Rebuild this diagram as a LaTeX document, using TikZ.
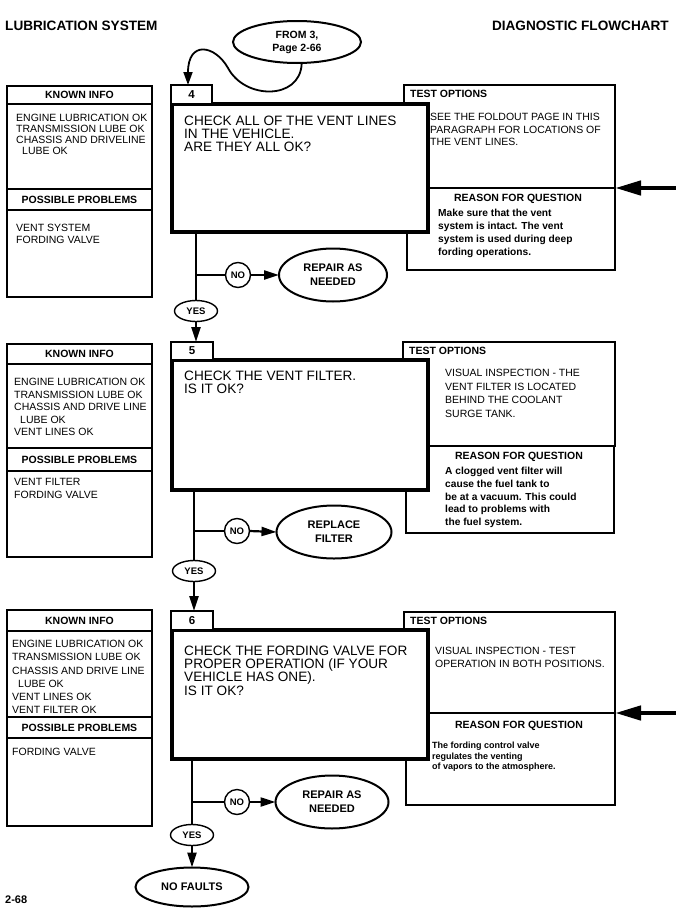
\documentclass[tikz,border=0pt]{standalone}
\usepackage{fontspec}
\setmainfont{Liberation Sans}
\usetikzlibrary{arrows.meta,shapes.geometric}
\newcommand{\rectnode}[6]{%
  \pgfmathsetmacro{\rnx}{(#3+#5)/2}%
  \pgfmathsetmacro{\rny}{(#4+#6)/2}%
  \pgfmathsetmacro{\rnw}{#5-#3}%
  \pgfmathsetmacro{\rnh}{#6-#4}%
  \node[#1, minimum width=\rnw pt, minimum height=\rnh pt] (#2) at (\rnx,\rny) {};}
\tikzset{
  thinbox/.style={draw, line width=1.3pt, fill=white, inner sep=0pt, outer sep=0pt},
  testbox/.style={draw, line width=1.8pt, fill=white, inner sep=0pt, outer sep=0pt},
  mainbox/.style={draw, line width=4pt, fill=white, inner sep=0pt, outer sep=0pt},
  lblbox/.style={draw, line width=1.3pt, fill=white, inner sep=0pt, outer sep=0pt},
  rulel/.style={line width=1.3pt},
  hdr/.style={font=\bfseries\fontsize{10.5}{12}\selectfont, inner sep=0pt},
  txt/.style={font=\fontsize{10.5}{#1}\selectfont, align=left, anchor=north west, inner sep=0pt},
  rtxt/.style={font=\bfseries\fontsize{10.2}{#1}\selectfont, align=left, anchor=north west, inner sep=0pt},
  rtxtsmall/.style={font=\bfseries\fontsize{9}{#1}\selectfont, align=left, anchor=north west, inner sep=0pt},
  mtxt/.style={font=\fontsize{13.6}{#1}\selectfont, align=left, anchor=north west, inner sep=0pt},
  numtxt/.style={font=\bfseries\fontsize{11.5}{12}\selectfont, inner sep=0pt},
  outcome/.style={ellipse, draw, line width=2pt, fill=white, inner sep=0pt, outer sep=0pt, minimum height=53pt, align=center, font=\bfseries\fontsize{11}{14}\selectfont},
  yesno/.style={ellipse, draw, line width=1.4pt, fill=white, inner sep=0pt, outer sep=0pt, font=\bfseries\fontsize{9.5}{10}\selectfont},
  yesoval/.style={yesno, minimum width=43pt, minimum height=21pt},
  nocirc/.style={yesno, minimum width=25pt, minimum height=25pt},
  conn/.style={line width=2.2pt},
  arr/.style={line width=2.2pt, -{Triangle[length=15pt,width=9pt]}},
  bigarr/.style={line width=4.5pt, -{Triangle[length=26pt,width=14pt]}},
  titletxt/.style={font=\bfseries\fontsize{13.6}{15}\selectfont, inner sep=0pt},
}
\begin{document}
\begin{tikzpicture}[x=1pt,y=-1pt]
\path[use as bounding box, fill=white] (0,0) rectangle (676,921);

% titles
\node[titletxt, anchor=west] (title1) at (5,26) {LUBRICATION SYSTEM};
\node[titletxt, anchor=east] (title2) at (669,26) {DIAGNOSTIC FLOWCHART};
\node[font=\bfseries\fontsize{11}{12}\selectfont, inner sep=0pt, anchor=west] (pageno) at (5,900) {2-68};

% entry oval
\node[ellipse, draw, line width=2pt, fill=white, inner sep=0pt, minimum width=128pt, minimum height=42pt, align=center, font=\bfseries\fontsize{10.5}{13}\selectfont] (from) at (297,42) {FROM 3,\\Page 2-66};

%================ SECTION 1 =================
\rectnode{thinbox}{k1}{7}{86}{152}{297}
\draw[rulel] (k1.west |- 0,104) -- (k1.east |- 0,104);
\draw[rulel] (k1.west |- 0,189) -- (k1.east |- 0,189);
\draw[rulel] (k1.west |- 0,210) -- (k1.east |- 0,210);
\node[hdr] (k1h) at (79.5,95) {KNOWN INFO};
\node[txt=11] (k1t) at (16,114.2) {ENGINE LUBRICATION OK\\TRANSMISSION LUBE OK\\CHASSIS AND DRIVELINE\\\hspace*{6pt}LUBE OK};
\node[hdr] (k1ph) at (79.5,200) {POSSIBLE PROBLEMS};
\node[txt=12] (k1p) at (16,224.2) {VENT SYSTEM\\FORDING VALVE};

\rectnode{testbox}{t1}{404}{85}{615}{188}
\rectnode{testbox}{r1}{407}{188}{615}{270}
\node[hdr, anchor=west] (t1h) at (410,94) {TEST OPTIONS};
\node[txt=12.5] (t1t) at (430,113.2) {SEE THE FOLDOUT PAGE IN THIS\\PARAGRAPH FOR LOCATIONS OF\\THE VENT LINES.};
\node[hdr] (r1h) at (518,199) {REASON FOR QUESTION};
\node[rtxt=13] (r1t) at (438,209.3) {Make sure that the vent\\system is intact.  The vent\\system is used during deep\\fording operations.};

\rectnode{mainbox}{m1}{172}{104}{428}{232}
\rectnode{lblbox}{l1}{171}{85}{212}{104}
\node[numtxt] (l1n) at (l1) {4};
\node[mtxt=12.8] (m1t) at (184,116.1) {CHECK ALL OF THE VENT LINES\\IN THE VEHICLE.\\ARE THEY ALL OK?};

\coordinate (e1) at (676,188);
\draw[bigarr] (e1) -- (r1.north east);

\draw[line width=1.8pt, -{Triangle[length=13pt,width=9pt]}] (from.-78) .. controls (300,100) and (245,100) .. (228,68) .. controls (215,45) and (188,40) .. (l1.north -| 188,0);

\node[yesoval] (y1) at (196,311) {YES};
\node[nocirc] (n1) at (238,275) {NO};
\node[outcome, minimum width=108pt] (o1) at (333,275) {REPAIR AS\\NEEDED};
\coordinate (b1) at (196,275);
\draw[conn] (m1.south -| b1) -- (y1.north);
\draw[conn] (b1) -- (n1.west);
\draw[arr] (n1.east) -- (o1.west);

%================ SECTION 2 =================
\rectnode{thinbox}{k2}{7}{344}{152}{557}
\draw[rulel] (k2.west |- 0,364) -- (k2.east |- 0,364);
\draw[rulel] (k2.west |- 0,448) -- (k2.east |- 0,448);
\draw[rulel] (k2.west |- 0,471) -- (k2.east |- 0,471);
\node[hdr] (k2h) at (79.5,354) {KNOWN INFO};
\node[txt=12.5] (k2t) at (14,378.2) {ENGINE LUBRICATION OK\\TRANSMISSION LUBE OK\\CHASSIS AND DRIVE LINE\\\hspace*{6pt}LUBE OK\\VENT LINES OK};
\node[hdr] (k2ph) at (79.5,460) {POSSIBLE PROBLEMS};
\node[txt=13] (k2p) at (14,478.2) {VENT FILTER\\FORDING VALVE};

\rectnode{testbox}{t2}{403}{342}{615}{446}
\rectnode{testbox}{r2}{406}{446}{614}{533}
\node[hdr, anchor=west] (t2h) at (409,351) {TEST OPTIONS};
\node[txt=13.5] (t2t) at (445,369.2) {VISUAL INSPECTION - THE\\VENT FILTER IS LOCATED\\BEHIND THE COOLANT\\SURGE TANK.};
\node[hdr] (r2h) at (519,457) {REASON FOR QUESTION};
\node[rtxt=12.7] (r2t) at (445,467.3) {A clogged vent filter will\\cause the fuel tank to\\be at a vacuum.  This could\\lead to problems with\\the fuel system.};

\rectnode{mainbox}{m2}{172}{360}{428}{490}
\rectnode{lblbox}{l2}{171}{342}{213}{360}
\node[numtxt] (l2n) at (l2) {5};
\node[mtxt=12.8] (m2t) at (184,371.1) {CHECK THE VENT FILTER.\\IS IT OK?};

\draw[arr] (y1.south) -- (l2.north -| y1.south);

\node[yesoval] (y2) at (194,571) {YES};
\node[nocirc] (n2) at (237,531) {NO};
\node[outcome, minimum width=115pt] (o2) at (334,532) {REPLACE\\FILTER};
\coordinate (b2) at (194,531);
\draw[conn] (m2.south -| b2) -- (y2.north);
\draw[conn] (b2) -- (n2.west);
\draw[arr] (n2.east) -- (o2.west);

%================ SECTION 3 =================
\rectnode{thinbox}{k3}{7}{610}{152}{826}
\draw[rulel] (k3.west |- 0,631) -- (k3.east |- 0,631);
\draw[rulel] (k3.west |- 0,717) -- (k3.east |- 0,717);
\draw[rulel] (k3.west |- 0,738) -- (k3.east |- 0,738);
\node[hdr] (k3h) at (79.5,621) {KNOWN INFO};
\node[txt=13.2] (k3t) at (12,640.2) {ENGINE LUBRICATION OK\\TRANSMISSION LUBE OK\\CHASSIS AND DRIVE LINE\\\hspace*{6pt}LUBE OK\\VENT LINES OK\\VENT FILTER OK};
\node[hdr] (k3ph) at (79.5,727.5) {POSSIBLE PROBLEMS};
\node[txt=13] (k3p) at (12,748.2) {FORDING VALVE};

\rectnode{testbox}{t3}{404}{612}{615}{713}
\rectnode{testbox}{r3}{406}{713}{615}{805}
\node[hdr, anchor=west] (t3h) at (410,621) {TEST OPTIONS};
\node[txt=13] (t3t) at (435,647.2) {VISUAL INSPECTION - TEST\\OPERATION IN BOTH POSITIONS.};
\node[hdr] (r3h) at (519,726) {REASON FOR QUESTION};
\node[rtxtsmall=10.5] (r3t) at (432,741.8) {The fording control valve\\regulates the venting\\of vapors to the atmosphere.};

\rectnode{mainbox}{m3}{172}{630}{428}{759}
\rectnode{lblbox}{l3}{171}{611}{213}{630}
\node[numtxt] (l3n) at (l3) {6};
\node[mtxt=12.3] (m3t) at (184,646.1) {CHECK THE FORDING VALVE FOR\\PROPER OPERATION (IF YOUR\\VEHICLE HAS ONE).\\IS IT OK?};

\draw[arr] (y2.south) -- (l3.north -| y2.south);

\coordinate (e3) at (676,713);
\draw[bigarr] (e3) -- (r3.north east);

\node[yesoval] (y3) at (192,835) {YES};
\node[nocirc] (n3) at (237,802) {NO};
\node[outcome, minimum width=113pt] (o3) at (332,802) {REPAIR AS\\NEEDED};
\coordinate (b3) at (192,802);
\draw[conn] (m3.south -| b3) -- (y3.north);
\draw[conn] (b3) -- (n3.west);
\draw[arr] (n3.east) -- (o3.west);

\node[outcome, minimum width=113pt, minimum height=39pt] (nf) at (192,887) {NO FAULTS};
\draw[arr] (y3.south) -- (nf.north);
\end{tikzpicture}
\end{document}
